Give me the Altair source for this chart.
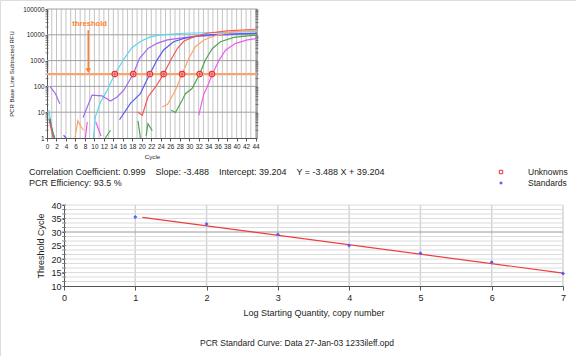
import altair as alt
import pandas as pd

FONT = "Liberation Sans"

# ---------------- amplification plot (cycle, RFU) ----------------
cyan_cycle = [9.8, 10.2, 11.3, 12.7, 14.3, 16.3, 17.9, 19.9, 21.8, 23.9, 28.9, 35.9, 44.3]
cyan_rfu = [1, 6.6, 25, 71, 300, 1200, 3160, 5750, 8300, 10000, 11500, 12300, 13200]

purple_cycle = [7.6, 9.5, 11.6, 13.4, 14.8, 16.2, 18.2, 19.5, 21.3, 23.2, 25.4, 28.9, 32.4, 39.4, 44.3]
purple_rfu = [6.2, 46, 43, 27, 39, 71, 300, 1200, 2950, 4680, 6310, 7760, 8910, 10470, 11480]

blue_cycle = [15.3, 17.6, 19.7, 20.4, 21.7, 23.2, 24.6, 26.7, 28.9, 31.7, 35.9, 44.3]
blue_rfu = [5.1, 22, 52, 100, 300, 1050, 2570, 5370, 7240, 9120, 10470, 11480]

red_cycle = [19.1, 20.1, 21.3, 22.9, 24.6, 26.1, 27.5, 28.9, 31.0, 33.8, 38.0, 44.3]
red_rfu = [10.2, 7.6, 39, 95, 300, 1050, 2950, 5750, 8320, 11480, 14130, 16220]

orange_cycle = [24.3, 25.4, 27.1, 28.5, 29.9, 31.3, 33.1, 35.9, 39.4, 44.3]
orange_rfu = [16, 20, 71, 300, 1200, 3470, 6310, 9770, 13180, 15140]

green_cycle = [26.2, 27.1, 28.5, 29.2, 30.6, 32.2, 33.4, 34.9, 36.6, 39.4, 42.3, 44.3]
green_rfu = [12, 9.8, 29, 52, 83, 300, 1050, 2950, 5370, 7940, 9120, 9770]

magenta_cycle = [32.0, 33.1, 33.8, 34.9, 36.3, 37.7, 39.8, 42.3, 44.3]
magenta_rfu = [7.6, 52, 95, 300, 1050, 2570, 4680, 6310, 7240]

# low-level noise fragments: (colour, cycles, rfu)
noise_fragments = [
    ("purple", [0.7, 1.8, 2.7], [95, 52, 21]),
    ("cyan", [0.4, 1.0, 1.5], [12, 2.3, 1]),
    ("blue", [0.6, 1.2, 1.6], [5.6, 1.6, 1]),
    ("green", [0.4, 1.1, 1.6], [5.6, 2.0, 1]),
    ("red", [0.5, 1.3], [4.5, 1]),
    ("blue", [3.5, 4.0], [1.3, 1]),
    ("orange", [5.9, 6.5, 7.2, 7.7], [1, 4.6, 2.7, 2.0]),
    ("magenta", [8.1, 8.5], [1, 4.2]),
    ("magenta", [10.3, 11.4], [4.2, 1.2]),
    ("green", [12.3, 13.4], [1, 2.0]),
    ("green", [19.2, 19.7], [4.6, 1]),
    ("green", [20.9, 21.3, 22.2], [1.2, 3.6, 1.9]),
]

threshold_rfu = 300
ct_top = [14.3, 18.2, 21.7, 24.6, 28.5, 32.2, 34.8]
threshold_label = "threshold"

# ---------------- standard curve ----------------
log_qty = [1, 2, 3, 4, 5, 6, 7]
ct_std = [35.6, 33.0, 29.1, 25.0, 22.1, 18.8, 14.6]
fit_x = [1.1, 7.0]
fit_y = [35.4, 14.8]

info_line1 = ("Correlation Coefficient: 0.999\u00a0\u00a0\u00a0\u00a0Slope: -3.488\u00a0\u00a0\u00a0\u00a0"
              "Intercept: 39.204\u00a0\u00a0\u00a0\u00a0Y = -3.488 X + 39.204")
info_line2 = "PCR Efficiency: 93.5 %"
legend_labels = ["Unknowns", "Standards"]
bottom_title = "PCR Standard Curve: Data 27-Jan-03 1233ileff.opd"

COL = {"cyan": "#5cd6ec", "purple": "#a567ec", "blue": "#5a5aee", "red": "#f05a5a",
       "orange": "#ffa466", "green": "#4fa64f", "magenta": "#f05af0"}

W, H = 576, 356

# ---------------- build tables ----------------
rows = []
main = [("cyan", cyan_cycle, cyan_rfu), ("purple", purple_cycle, purple_rfu),
        ("blue", blue_cycle, blue_rfu), ("red", red_cycle, red_rfu),
        ("orange", orange_cycle, orange_rfu), ("green", green_cycle, green_rfu),
        ("magenta", magenta_cycle, magenta_rfu)]
seg = 0
for name, cs, rs in main + noise_fragments:
    for i, (c, r) in enumerate(zip(cs, rs)):
        rows.append({"seg": seg, "i": i, "color": COL[name], "cycle": c, "rfu": r})
    seg += 1
curves_df = pd.DataFrame(rows)

XMAX = 44.3
vgrid_df = pd.DataFrame({"cycle": list(range(1, 45)), "lo": 1, "hi": 100000})
hgrid_df = pd.DataFrame({"rfu": [10, 100, 1000, 10000, 100000], "lo": 0, "hi": XMAX})
minor_vals = [m * 10 ** d for d in range(5) for m in range(2, 10)]
minor_df = pd.DataFrame({"rfu": minor_vals * 2, "cycle": [0] * len(minor_vals) + [XMAX] * len(minor_vals)})
border_df = pd.DataFrame({"cycle": [XMAX], "lo": [1], "hi": [100000]})
thr_df = pd.DataFrame({"lo": [0], "hi": [XMAX], "rfu": [threshold_rfu]})
ct_df = pd.DataFrame({"cycle": ct_top, "rfu": [threshold_rfu] * len(ct_top)})
arrow_df = pd.DataFrame({"cycle": [8.7], "top": [15000], "bot": [400]})
head_df = pd.DataFrame({"cycle": [8.7], "rfu": [410]})
tlabel_df = pd.DataFrame({"cycle": [9.0], "rfu": [26000], "t": [threshold_label]})

# ---------------- top plot scales / axes ----------------
xs_t = alt.Scale(domain=[0, XMAX], range=[47, 257], nice=False, zero=False)
ys_t = alt.Scale(type="log", domain=[1, 100000], range=[138, 9], nice=False)
ax_tx = alt.Axis(values=list(range(0, 45, 2)), format="d", grid=False, orient="bottom",
                 offset=138 - H, domainColor="#555555", tickColor="#555555", tickSize=3,
                 labelFont=FONT, labelFontSize=6.4, labelColor="#222222", labelPadding=2,
                 labelOverlap=False, labelFlush=False, title="Cycle", titleFont=FONT,
                 titleFontSize=6.2, titleFontWeight="normal", titleColor="#222222", titlePadding=4)
ax_ty = alt.Axis(values=[1, 10, 100, 1000, 10000, 100000], format="d", grid=False, orient="left",
                 offset=-47, domainColor="#555555", tickColor="#555555", tickSize=2,
                 labelFont=FONT, labelFontSize=6.4, labelColor="#222222", labelPadding=1,
                 labelOverlap=False, labelFlush=False, title="PCR Base Line Subtracted RFU",
                 titleFont=FONT, titleFontSize=6, titleFontWeight="normal", titleColor="#222222",
                 titlePadding=8)


def TX(f):
    return alt.X(f, type="quantitative", scale=xs_t, axis=ax_tx)


def TY(f):
    return alt.Y(f, type="quantitative", scale=ys_t, axis=ax_ty)


vgrid = alt.Chart(vgrid_df).mark_rule(color="#c4c4c4", strokeWidth=1).encode(
    x=TX("cycle"), y=TY("lo"), y2=alt.Y2("hi"))
hgrid = alt.Chart(hgrid_df).mark_rule(color="#a0a0a0", strokeWidth=1).encode(
    y=TY("rfu"), x=TX("lo"), x2=alt.X2("hi"))
border = alt.Chart(border_df).mark_rule(color="#555555", strokeWidth=1).encode(
    x=TX("cycle"), y=TY("lo"), y2=alt.Y2("hi"))
minor = alt.Chart(minor_df).mark_tick(color="#555555", size=3, thickness=1, orient="horizontal").encode(
    x=TX("cycle"), y=TY("rfu"))
curves = alt.Chart(curves_df).mark_line(strokeWidth=1.2).encode(
    x=TX("cycle"), y=TY("rfu"), detail="seg:N", order="i:Q",
    color=alt.Color("color:N", scale=None))
thr = alt.Chart(thr_df).mark_rule(color="#f9a46c", strokeWidth=2.2).encode(
    y=TY("rfu"), x=TX("lo"), x2=alt.X2("hi"))
ct_pts = alt.Chart(ct_df).mark_point(shape="circle", size=30, filled=True, fill="#ffc8c8",
                                     stroke="#e83030", strokeWidth=1.1, opacity=1).encode(
    x=TX("cycle"), y=TY("rfu"))
ct_x = alt.Chart(ct_df).mark_point(shape="cross", size=10, filled=True, color="#e83030", opacity=0.8).encode(
    x=TX("cycle"), y=TY("rfu"))
arrow = alt.Chart(arrow_df).mark_rule(color="#ff7f2a", strokeWidth=1.5).encode(
    x=TX("cycle"), y=TY("top"), y2=alt.Y2("bot"))
head = alt.Chart(head_df).mark_point(shape="triangle-down", size=30, filled=True, color="#ff7f2a", opacity=1).encode(
    x=TX("cycle"), y=TY("rfu"))
tlabel = alt.Chart(tlabel_df).mark_text(font=FONT, fontSize=7.6, fontWeight="bold", color="#ff7f2a",
                                        align="center", baseline="middle").encode(
    x=TX("cycle"), y=TY("rfu"), text="t:N")

top = alt.layer(vgrid, hgrid, border, minor, curves, thr, ct_pts, ct_x, arrow, head, tlabel)

# ---------------- bottom plot ----------------
xs_b = alt.Scale(domain=[0, 7], range=[64, 563], nice=False, zero=False)
ys_b = alt.Scale(domain=[10, 40], range=[286, 205], nice=False, zero=False)
ax_bx = alt.Axis(values=list(range(8)), format="d", grid=False, orient="bottom", offset=286 - H,
                 domainColor="#555555", tickColor="#555555", tickSize=4, labelFont=FONT,
                 labelFontSize=9, labelColor="#222222", labelPadding=3, labelFlush=False,
                 title="Log Starting Quantity, copy number", titleFont=FONT, titleFontSize=9,
                 titleFontWeight="normal", titleColor="#222222", titlePadding=6)
ax_by = alt.Axis(values=[10, 15, 20, 25, 30, 35, 40], format="d", grid=False, orient="left", offset=-64,
                 domainColor="#555555", tickColor="#555555", tickSize=2, labelFont=FONT,
                 labelFontSize=9, labelColor="#222222", labelPadding=1, labelFlush=False,
                 title="Threshold Cycle", titleFont=FONT, titleFontSize=9, titleFontWeight="normal",
                 titleColor="#222222", titlePadding=5)


def BX(f):
    return alt.X(f, type="quantitative", scale=xs_b, axis=ax_bx)


def BY(f):
    return alt.Y(f, type="quantitative", scale=ys_b, axis=ax_by)


hvals = [10 + k * 5 / 3 for k in range(1, 19)]
bh_df = pd.DataFrame({"y": hvals, "lo": 0, "hi": 7,
                      "c": ["#9a9a9a" if abs(v - 30) < 0.01 else "#dcdcdc" for v in hvals]})
bv_df = pd.DataFrame({"x": list(range(1, 8)), "lo": 10, "hi": 40})
bminor_df = pd.DataFrame({"y": hvals, "x": 0})
std_df = pd.DataFrame({"q": log_qty, "ct": ct_std})
fit_df = pd.DataFrame({"q": fit_x, "ct": fit_y})

bvgrid = alt.Chart(bv_df).mark_rule(color="#d4d4d4", strokeWidth=1.5).encode(
    x=BX("x"), y=BY("lo"), y2=alt.Y2("hi"))
bhgrid = alt.Chart(bh_df).mark_rule(strokeWidth=1).encode(
    y=BY("y"), x=BX("lo"), x2=alt.X2("hi"), color=alt.Color("c:N", scale=None))
bminor = alt.Chart(bminor_df).mark_tick(color="#555555", size=4, thickness=1, orient="horizontal").encode(
    x=BX("x"), y=BY("y"))
fit = alt.Chart(fit_df).mark_line(color="#f03c3c", strokeWidth=1.2).encode(x=BX("q"), y=BY("ct"))
std = alt.Chart(std_df).mark_point(shape="diamond", size=16, filled=True, color="#5a5aff", opacity=1).encode(
    x=BX("q"), y=BY("ct"))

bottom = alt.layer(bvgrid, bhgrid, bminor, fit, std)

# ---------------- free text & legend ----------------
one = pd.DataFrame({"k": [0]})
txt1 = alt.Chart(one).mark_text(text=info_line1, font=FONT, fontSize=9, color="#222222",
                                align="left", baseline="middle").encode(x=alt.value(29), y=alt.value(172))
txt2 = alt.Chart(one).mark_text(text=info_line2, font=FONT, fontSize=9, color="#222222",
                                align="left", baseline="middle").encode(x=alt.value(29), y=alt.value(183))
ttl = alt.Chart(one).mark_text(text=bottom_title, font=FONT, fontSize=8.5, color="#222222",
                               align="center", baseline="middle").encode(x=alt.value(297), y=alt.value(343))
leg_df = pd.DataFrame({"label": legend_labels, "yy": [172, 183]})
leg_txt = alt.Chart(leg_df).mark_text(font=FONT, fontSize=8.5, color="#222222", align="left",
                                      baseline="middle").encode(
    x=alt.value(528), y=alt.Y("yy:Q", scale=None), text="label:N")
leg_unk = alt.Chart(one).mark_point(shape="square", size=12, filled=False, color="#e83030",
                                    strokeWidth=1, opacity=1).encode(x=alt.value(501), y=alt.value(172))
leg_std = alt.Chart(one).mark_point(shape="diamond", size=14, filled=True, color="#5a5aff",
                                    opacity=1).encode(x=alt.value(501), y=alt.value(183))

chart = alt.layer(top, bottom).resolve_scale(x="independent", y="independent")
chart = alt.layer(chart, txt1, txt2, ttl, leg_txt, leg_unk, leg_std).properties(
    width=W, height=H, padding=0, autosize=alt.AutoSizeParams(type="none")
).configure_view(stroke=None).configure(font=FONT)

chart.save("out.html", embed_options={"renderer": "svg", "actions": False})
